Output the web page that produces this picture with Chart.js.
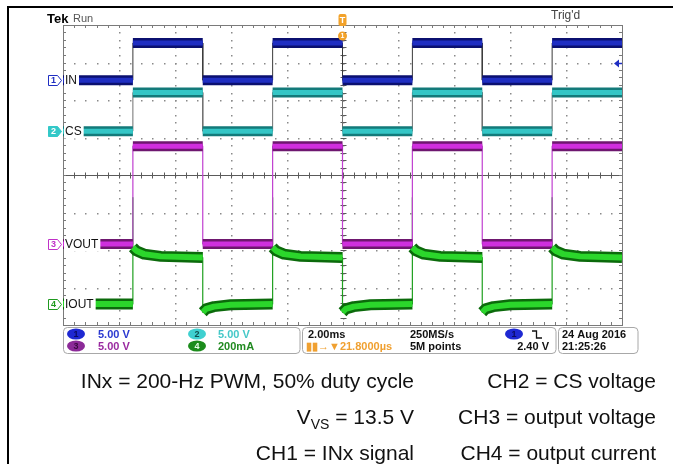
<!DOCTYPE html>
<html><head><meta charset="utf-8">
<script src="https://cdn.jsdelivr.net/npm/chart.js@4/dist/chart.umd.min.js"></script>
<style>html,body{margin:0;padding:0;background:#fff;}canvas{display:block;}</style>
</head><body>
<canvas id="c" width="673" height="464"></canvas>
<script>
// ---- data (time in ms, levels in screen divisions) ----
const edgeTimes = [-10, -7.5, -5, -2.5, 0, 2.5, 5, 7.5, 10];
const inxHigh   = [false, true, false, true, false, true, false, true];
const ch1Level  = [2.53, 3.52];   // IN: [low, high]
const ch2Level  = [1.17, 2.20];   // CS
const ch3Level  = [-1.84, 0.77];  // VOUT
const ch4HighProfile = [[0, -1.93], [0.12, -2.02], [0.4, -2.11], [1.0, -2.17], [2.5, -2.20]]; // [ms after edge, div]
const ch4LowProfile  = [[0, -3.66], [0.12, -3.57], [0.4, -3.51], [1.0, -3.46], [2.5, -3.44]];
const ch4RiseSpike = -0.6;
const xDivs = [-10, -8, -6, -4, -2, 0, 2, 4, 6, 8, 10];
const yDivs = [-4, -3, -2, -1, 0, 1, 2, 3, 4];
const chGround = [2.53, 1.17, -1.84, -3.44];
const chNames = ['IN', 'CS', 'VOUT', 'IOUT'];
const trigLevelDiv = 2.98;
const scaleRow1 = ['5.00 V', '5.00 V'];
const scaleRow2 = ['5.00 V', '200mA'];
const captionLeft = ['INx = 200-Hz PWM, 50% duty cycle', null, 'CH1 = INx signal'];
const captionRight = ['CH2 = CS voltage', 'CH3 = output voltage', 'CH4 = output current'];

// ---- build traces ----
function stepTrace(lv) {
  const p = [];
  for (let i = 0; i < inxHigh.length; i++) {
    const v = inxHigh[i] ? lv[1] : lv[0];
    p.push({x: edgeTimes[i], y: v}, {x: edgeTimes[i + 1], y: v});
  }
  return p;
}
function stepBands(lv) {
  const p = [];
  for (let i = 0; i < inxHigh.length; i++) {
    const v = inxHigh[i] ? lv[1] : lv[0];
    p.push({x: edgeTimes[i], y: v}, {x: edgeTimes[i + 1], y: v}, {x: edgeTimes[i + 1], y: null});
  }
  return p;
}
function ch4Segment(i) {
  const prof = inxHigh[i] ? ch4HighProfile : ch4LowProfile;
  const t0 = edgeTimes[i], t1 = edgeTimes[i + 1];
  if (i === 0) { const v = prof[prof.length - 1][1]; return [{x: t0, y: v}, {x: t1, y: v}]; }
  return prof.filter(q => t0 + q[0] <= t1).map(q => ({x: t0 + q[0], y: q[1]}));
}
function ch4Bands() {
  const p = [];
  for (let i = 0; i < inxHigh.length; i++) { p.push(...ch4Segment(i)); p.push({x: edgeTimes[i + 1], y: null}); }
  return p;
}
function ch4Thin() {
  const p = [];
  for (let i = 0; i < inxHigh.length; i++) {
    if (i > 0 && inxHigh[i]) p.push({x: edgeTimes[i], y: ch4RiseSpike});
    p.push(...ch4Segment(i));
  }
  return p;
}

const colors = {
  ch1: {dark: '#0b1070', core: '#1f2ec2', thin: '#3a3a3a'},
  ch2: {dark: '#137a7a', core: '#34c6c6', thin: '#707070'},
  ch3: {dark: '#6e176f', core: '#cf2fde', thin: '#c040d0'},
  ch4: {dark: '#0b6a0b', core: '#2bd62b', thin: '#1fa01f'}
};
function ds(data, color, width, order) {
  return {data, showLine: true, borderColor: color, borderWidth: width, pointRadius: 0,
          spanGaps: false, order, borderCapStyle: 'butt', borderJoinStyle: 'round', tension: 0};
}
const datasets = [
  ds(stepTrace(ch1Level), colors.ch1.thin, 1, 3),
  ds(stepTrace(ch2Level), colors.ch2.thin, 1, 3),
  ds(stepTrace(ch3Level), colors.ch3.thin, 1.2, 3),
  ds(ch4Thin(), colors.ch4.thin, 1.2, 3),
  ds(stepBands(ch1Level), colors.ch1.dark, 10, 2),
  ds(stepBands(ch2Level), colors.ch2.dark, 10, 2),
  ds(stepBands(ch3Level), colors.ch3.dark, 10, 2),
  ds(ch4Bands(), colors.ch4.dark, 11, 2),
  ds(stepBands(ch1Level), colors.ch1.core, 5, 1),
  ds(stepBands(ch2Level), colors.ch2.core, 5, 1),
  ds(stepBands(ch3Level), colors.ch3.core, 5, 1),
  ds(ch4Bands(), colors.ch4.core, 6, 1)
];

const SANS = '"Liberation Sans", Arial, sans-serif';

const graticule = {
  id: 'graticule',
  beforeDraw(chart) {
    const ctx = chart.ctx;
    ctx.save(); ctx.fillStyle = '#fff'; ctx.fillRect(0, 0, chart.width, chart.height); ctx.restore();
  },
  beforeDatasetsDraw(chart) {
    const {ctx, scales: {x, y}} = chart;
    const L = x.getPixelForValue(-10), R = x.getPixelForValue(10);
    const T = y.getPixelForValue(4), B = y.getPixelForValue(-4);
    const cx = Math.round(x.getPixelForValue(0)) + 0.5, cy = Math.round(y.getPixelForValue(0)) + 0.5;
    ctx.save();
    ctx.fillStyle = '#8a8a8a';
    // dotted division lines
    xDivs.forEach(xv => {
      if (xv === -10 || xv === 10) return;
      const px = Math.round(x.getPixelForValue(xv));
      for (let k = 1; k < 40; k++) {
        const py = Math.round(y.getPixelForValue(-4 + k * 0.2));
        ctx.fillRect(px, py, 1.5, 1.5);
      }
    });
    yDivs.forEach(yv => {
      if (yv === -4 || yv === 4 || yv === 0) return;
      const py = Math.round(y.getPixelForValue(yv));
      for (let k = 1; k < 50; k++) {
        const px = Math.round(x.getPixelForValue(-10 + k * 0.4));
        ctx.fillRect(px, py, 1.5, 1.5);
      }
    });
    // center horizontal line
    ctx.strokeStyle = '#5a5a5a'; ctx.lineWidth = 1;
    ctx.beginPath(); ctx.moveTo(L, cy); ctx.lineTo(R, cy); ctx.stroke();
    ctx.beginPath();
    for (let k = 1; k < 50; k++) {
      const px = Math.round(x.getPixelForValue(-10 + k * 0.4)) + 0.5;
      ctx.moveTo(px, cy - 3); ctx.lineTo(px, cy + 3);
    }
    // center vertical ticks
    for (let k = 1; k < 40; k++) {
      const py = Math.round(y.getPixelForValue(-4 + k * 0.2)) + 0.5;
      ctx.moveTo(cx - 3, py); ctx.lineTo(cx + 3, py);
    }
    ctx.stroke();
    // border + inward ticks
    ctx.strokeStyle = '#7a7a7a';
    ctx.strokeRect(Math.round(L) + 0.5, Math.round(T) + 0.5, Math.round(R - L), Math.round(B - T));
    ctx.beginPath();
    for (let k = 1; k < 50; k++) {
      const px = Math.round(x.getPixelForValue(-10 + k * 0.4)) + 0.5;
      ctx.moveTo(px, T); ctx.lineTo(px, T + 3);
      ctx.moveTo(px, B); ctx.lineTo(px, B - 3);
    }
    for (let k = 1; k < 40; k++) {
      const py = Math.round(y.getPixelForValue(-4 + k * 0.2)) + 0.5;
      ctx.moveTo(L, py); ctx.lineTo(L + 3, py);
      ctx.moveTo(R, py); ctx.lineTo(R - 3, py);
    }
    ctx.stroke();
    ctx.restore();
  },
  afterDraw(chart) {
    const {ctx, scales: {x, y}} = chart;
    ctx.save();
    // outer frame
    ctx.fillStyle = '#000';
    ctx.fillRect(8, 6, 665, 2);
    ctx.fillRect(7, 6, 2, 458);

    // channel labels
    const markCols = [colors.ch1.core, '#33c8c8', '#c030c8', '#1f9a1f'];
    chGround.forEach((g, i) => {
      const yc = Math.round(y.getPixelForValue(g)) + 0.5;
      ctx.font = '12px ' + SANS;
      const w = ctx.measureText(chNames[i]).width;
      ctx.fillStyle = '#fff';
      ctx.fillRect(64, yc - 7, w + 3, 14);
      ctx.fillStyle = '#111'; ctx.textBaseline = 'middle'; ctx.textAlign = 'left';
      ctx.fillText(chNames[i], 65, yc + 0.5);
      // marker
      const x0 = 48.5;
      ctx.beginPath();
      ctx.moveTo(x0, yc - 5); ctx.lineTo(x0 + 9, yc - 5); ctx.lineTo(x0 + 13, yc);
      ctx.lineTo(x0 + 9, yc + 5); ctx.lineTo(x0, yc + 5); ctx.closePath();
      ctx.lineWidth = 1;
      if (i === 1) { ctx.fillStyle = markCols[i]; ctx.fill(); }
      else { ctx.fillStyle = '#fff'; ctx.fill(); }
      ctx.strokeStyle = markCols[i]; ctx.stroke();
      ctx.fillStyle = i === 1 ? '#fff' : markCols[i];
      ctx.font = 'bold 9px ' + SANS; ctx.textAlign = 'center';
      ctx.fillText(String(i + 1), x0 + 5, yc + 0.5);
    });

    // trigger level arrow (right)
    const ty = Math.round(y.getPixelForValue(trigLevelDiv)) + 0.5;
    const rx = x.getPixelForValue(10);
    ctx.fillStyle = colors.ch1.core; ctx.strokeStyle = colors.ch1.core;
    ctx.beginPath(); ctx.moveTo(rx - 8, ty); ctx.lineTo(rx - 3, ty - 4); ctx.lineTo(rx - 3, ty + 4); ctx.closePath(); ctx.fill();
    ctx.beginPath(); ctx.moveTo(rx - 4, ty); ctx.lineTo(rx, ty); ctx.lineWidth = 1.5; ctx.stroke();

    // trigger position marker (top)
    const tx = x.getPixelForValue(0);
    ctx.fillStyle = '#f2a22a';
    ctx.beginPath(); ctx.roundRect(tx - 4, 14, 8, 12, 2); ctx.fill();
    ctx.fillStyle = '#fff'; ctx.font = 'bold 9px ' + SANS; ctx.textAlign = 'center'; ctx.textBaseline = 'middle';
    ctx.fillText('T', tx, 20.5);
    ctx.beginPath(); ctx.arc(tx, 36, 4.5, 0, Math.PI * 2); ctx.fillStyle = '#f2a22a'; ctx.fill();
    ctx.fillStyle = '#fff'; ctx.font = 'bold 7px ' + SANS; ctx.fillText('1', tx, 36.5);

    // top texts
    ctx.textAlign = 'left'; ctx.textBaseline = 'alphabetic';
    ctx.fillStyle = '#000'; ctx.font = 'bold 13px ' + SANS; ctx.fillText('Tek', 47, 23);
    ctx.fillStyle = '#555'; ctx.font = '11px ' + SANS; ctx.fillText('Run', 73, 22);
    ctx.fillStyle = '#444'; ctx.font = '12px ' + SANS; ctx.fillText("Trig'd", 551, 19);

    // status bar boxes
    ctx.strokeStyle = '#a8a8a8'; ctx.lineWidth = 1;
    [[63.5, 300], [302.5, 556], [558.5, 638]].forEach(b => {
      ctx.beginPath(); ctx.roundRect(b[0], 327.5, b[1] - b[0], 26, 4); ctx.stroke();
    });
    const r1 = 338, r2 = 350;
    function oval(cx0, cy0, col, num, txtCol) {
      ctx.beginPath(); ctx.ellipse(cx0, cy0, 9, 5.5, 0, 0, Math.PI * 2); ctx.fillStyle = col; ctx.fill();
      ctx.fillStyle = txtCol; ctx.font = 'bold 9px ' + SANS; ctx.textAlign = 'center'; ctx.textBaseline = 'middle';
      ctx.fillText(num, cx0, cy0 + 0.5);
    }
    oval(76, 334, '#1e28d2', '1', '#0a0a60');
    oval(76, 346, '#8c2a98', '3', '#3a0a40');
    oval(197, 334, '#3fd0d0', '2', '#0d4d4d');
    oval(197, 346, '#1c8c1c', '4', '#e8ffe8');
    oval(514, 334, '#1e28d2', '1', '#0a0a60');
    ctx.textAlign = 'left'; ctx.textBaseline = 'alphabetic'; ctx.font = 'bold 11px ' + SANS;
    ctx.fillStyle = '#2a38d0'; ctx.fillText(scaleRow1[0], 98, r1);
    ctx.fillStyle = '#9a2aa0'; ctx.fillText(scaleRow2[0], 98, r2);
    ctx.fillStyle = '#45c8c8'; ctx.fillText(scaleRow1[1], 218, r1);
    ctx.fillStyle = '#218a21'; ctx.fillText(scaleRow2[1], 218, r2);
    ctx.fillStyle = '#111';
    ctx.fillText('2.00ms', 308, r1);
    ctx.fillText('250MS/s', 410, r1);
    ctx.fillText('5M points', 410, r2);
    ctx.fillText('24 Aug 2016', 562, r1);
    ctx.fillText('21:25:26', 562, r2);
    ctx.textAlign = 'right'; ctx.fillText('2.40 V', 549, r2);
    ctx.textAlign = 'left';
    ctx.fillStyle = '#f0a030'; ctx.fillText('\u25AE\u25AE\u2192\u25BC21.8000\u00B5s', 306, r2);
    // slope glyph
    ctx.strokeStyle = '#111'; ctx.lineWidth = 1.3;
    ctx.beginPath(); ctx.moveTo(532, 331); ctx.lineTo(536.5, 331); ctx.lineTo(536.5, 338); ctx.lineTo(542, 338); ctx.stroke();

    // caption
    ctx.fillStyle = '#111'; ctx.textBaseline = 'alphabetic';
    const big = '21px ' + SANS, small = '14px ' + SANS;
    const base = [388, 424, 460];
    ctx.font = big; ctx.textAlign = 'right';
    captionLeft.forEach((s, i) => { if (s) ctx.fillText(s, 414, base[i]); });
    captionRight.forEach((s, i) => ctx.fillText(s, 656, base[i]));
    // V_VS = 13.5 V
    ctx.textAlign = 'left';
    ctx.font = big; const wV = ctx.measureText('V').width, wR = ctx.measureText(' = 13.5 V').width;
    ctx.font = small; const wS = ctx.measureText('VS').width;
    let sx = 414 - (wV + wS + wR);
    ctx.font = big; ctx.fillText('V', sx, base[1]); sx += wV;
    ctx.font = small; ctx.fillText('VS', sx, base[1] + 5); sx += wS;
    ctx.font = big; ctx.fillText(' = 13.5 V', sx, base[1]);
    ctx.restore();
  }
};

new Chart(document.getElementById('c'), {
  type: 'scatter',
  data: {datasets},
  options: {
    responsive: false, animation: false, devicePixelRatio: 1,
    layout: {padding: {left: 63, right: 51, top: 25, bottom: 139}},
    plugins: {legend: {display: false}, tooltip: {enabled: false}},
    scales: {
      x: {type: 'linear', min: -10, max: 10, display: false},
      y: {type: 'linear', min: -4, max: 4, display: false}
    }
  },
  plugins: [graticule]
});
</script>
</body></html>
